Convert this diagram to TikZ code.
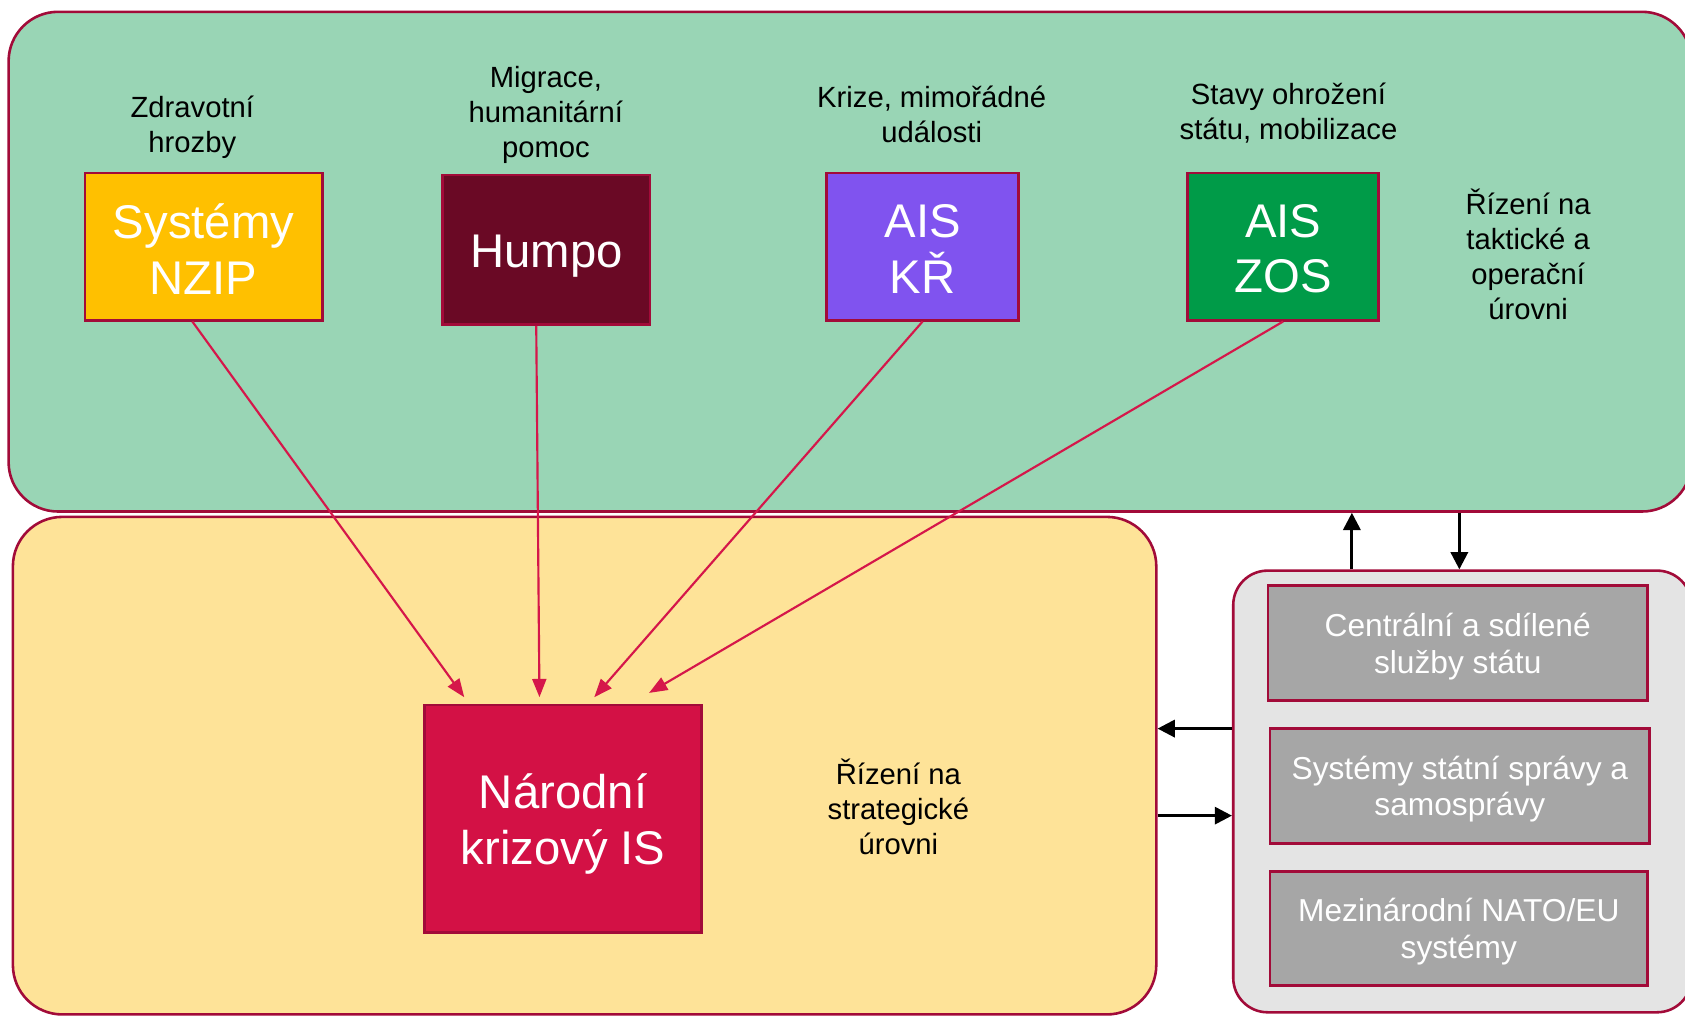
\documentclass[tikz,border=0pt]{standalone}
\usepackage{fontspec}
\setmainfont{Liberation Sans}
\usetikzlibrary{arrows.meta}
\definecolor{bordc}{HTML}{A20B39}
\definecolor{greenbg}{HTML}{99D5B5}
\definecolor{yellowbg}{HTML}{FEE398}
\definecolor{graybg}{HTML}{E4E4E4}
\definecolor{grayin}{HTML}{A6A6A6}
\definecolor{nzipc}{HTML}{FFC000}
\definecolor{humpoc}{HTML}{6A0925}
\definecolor{krc}{HTML}{8053EF}
\definecolor{zosc}{HTML}{009B48}
\definecolor{nkc}{HTML}{D31145}
\definecolor{arrc}{HTML}{D5174A}
\tikzset{
  zone/.style={draw=bordc, line width=1.2pt, inner sep=0pt},
  sysbox/.style={draw=bordc, line width=1.2pt, inner sep=0pt},
  systext/.style={text=white, align=center, inner sep=0pt, font=\fontsize{22}{26}\selectfont},
  graybox/.style={draw=bordc, line width=1.1pt, fill=grayin, inner sep=0pt,
    minimum width=176.5pt, minimum height=53.5pt},
  graytext/.style={text=white, align=center, inner sep=0pt, yshift=-1.5pt,
    font=\fontsize{14.75}{17}\selectfont},
  lbl/.style={align=center, inner sep=0pt, font=\fontsize{13.6}{16.3}\selectfont},
  redarr/.style={draw=arrc, line width=1pt, -{Triangle[length=8.5pt,width=6.5pt]}},
  blkarr/.style={draw=black, line width=1.3pt, -{Triangle[length=8pt,width=8pt]}}
}
\begin{document}
\begin{tikzpicture}[x=0.5pt,y=-0.5pt]
\clip (0,0) rectangle (1568,946);
\fill[white] (0,0) rectangle (1568,946);
% containers
\node[zone, fill=greenbg, rounded corners=23pt, minimum width=783pt, minimum height=232.5pt] (green) at (791,243.5) {};
\node[zone, fill=yellowbg, rounded corners=23pt, minimum width=532pt, minimum height=231.5pt] (yellow) at (544,712.5) {};
\node[zone, fill=graybg, rounded corners=16pt, minimum width=213.2pt, minimum height=205.5pt] (gray) at (1360.8,736.5) {};
% system boxes
\node[sysbox, fill=nzipc, minimum width=110.5pt, minimum height=68.5pt,
  label={[systext, yshift=-1pt]center:{Systémy\\NZIP}}] (nzip) at (189.5,229.5) {};
\node[sysbox, fill=humpoc, minimum width=96.5pt, minimum height=69.5pt,
  label={[systext, yshift=-3pt]center:Humpo}] (humpo) at (508.5,232.5) {};
\node[sysbox, fill=krc, minimum width=89.5pt, minimum height=68.5pt,
  label={[systext, yshift=-1pt]center:{AIS\\KŘ}}] (kr) at (858.5,229.5) {};
\node[sysbox, fill=zosc, minimum width=89pt, minimum height=68.5pt,
  label={[systext, yshift=-1pt]center:{AIS\\ZOS}}] (zos) at (1194,229.5) {};
\node[sysbox, fill=nkc, minimum width=129pt, minimum height=106pt,
  label={[systext, yshift=-2.5pt]center:{Národní\\krizový IS}}] (nk) at (524,762) {};
% labels
\node[lbl] (l1) at (179,118.5) {Zdravotní\\hrozby};
\node[lbl] (l2) at (508,107) {Migrace,\\humanitární\\pomoc};
\node[lbl] (l3) at (867,106) {Krize, mimořádné\\události};
\node[lbl] (l4) at (1199,105.5) {Stavy ohrožení\\státu, mobilizace};
\node[lbl] (l5) at (1422,237) {Řízení na\\taktické a\\operační\\úrovni};
\node[lbl] (l6) at (836,750.5) {Řízení na\\strategické\\úrovni};
% gray boxes
\node[graybox, label={[graytext]center:{Centrální a sdílené\\služby státu}}] (g1) at (1356.5,598.5) {};
\node[graybox, label={[graytext]center:{Systémy státní správy a\\samosprávy}}] (g2) at (1358.5,731.5) {};
\node[graybox, minimum width=175.5pt, minimum height=53pt,
  label={[graytext]center:{Mezinárodní NATO/EU\\systémy}}] (g3) at (1357.5,864) {};
% red arrows
\draw[redarr] ([xshift=-5.25pt]nzip.south) -- ([xshift=-46pt,yshift=3pt]nk.north);
\draw[redarr] ([xshift=-4.75pt]humpo.south) -- ([xshift=-11pt,yshift=3pt]nk.north);
\draw[redarr] (kr.south) -- ([xshift=14.5pt,yshift=3pt]nk.north);
\draw[redarr] (zos.south) -- ([xshift=40pt,yshift=5pt]nk.north);
% black arrows
\draw[blkarr] (gray.north -| 1258,0) -- (green.south -| 1258,0);
\draw[blkarr] (green.south -| 1358,0) -- (gray.north -| 1358,0);
\draw[blkarr] (gray.west |- 0,678) -- (yellow.east |- 0,678);
\draw[blkarr] (yellow.east |- 0,759) -- (gray.west |- 0,759);
\end{tikzpicture}
\end{document}
